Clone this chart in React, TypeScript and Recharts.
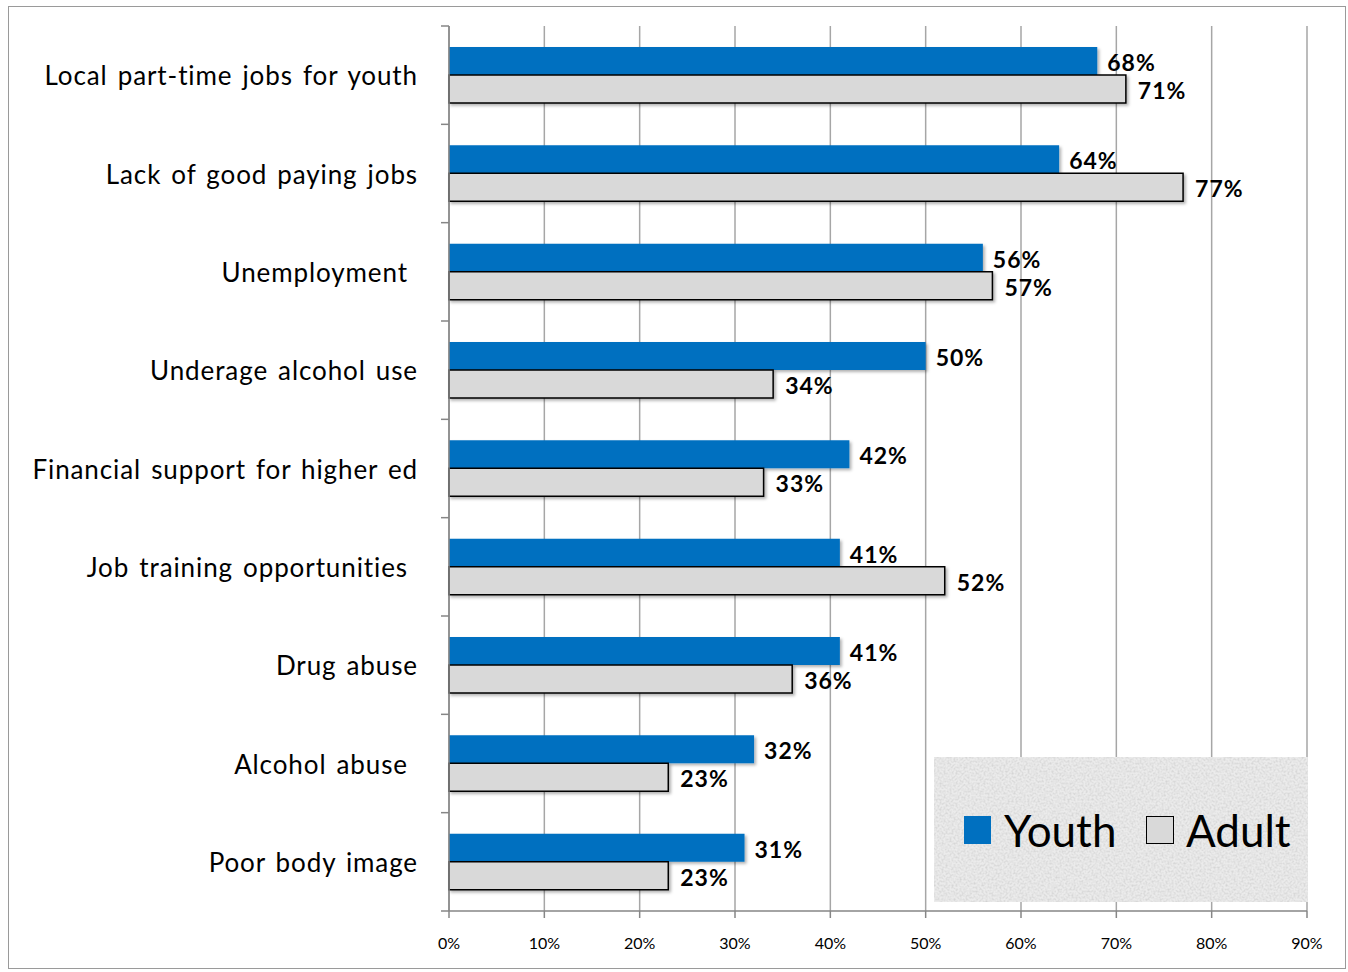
import { BarChart, Bar, XAxis, YAxis, CartesianGrid, LabelList, Legend } from 'recharts'

const categories = [
  'Local part-time jobs for youth',
  'Lack of good paying jobs',
  'Unemployment\u00a0',
  'Underage alcohol use',
  'Financial support for higher ed',
  'Job training opportunities\u00a0',
  'Drug abuse',
  'Alcohol abuse\u00a0',
  'Poor body image',
]
const youth = [68, 64, 56, 50, 42, 41, 41, 32, 31]
const adult = [71, 77, 57, 34, 33, 52, 36, 23, 23]
const xTicks = [0, 10, 20, 30, 40, 50, 60, 70, 80, 90]

const data = categories.map((name, i) => ({ name, youth: youth[i], adult: adult[i] }))

const W = 1348
const H = 972
const M = { top: 26, right: 41, bottom: 21, left: 0 }
const Y_W = 449
const X_H = 40
const BAND = (H - M.top - M.bottom - X_H) / categories.length
const FONT = 'Lato, "Open Sans", sans-serif'

function CatTick(props: any) {
  const { x, y, payload, index } = props
  const half = BAND / 2
  return (
    <g>
      <text
        x={x}
        y={y}
        textAnchor="end"
        dominantBaseline="central"
        fontSize={26}
        letterSpacing={0.9}
        wordSpacing={2.5}
        fill="#000"
        fontFamily={FONT}
      >
        {payload.value}
      </text>
      <line x1={Y_W - 8} x2={Y_W} y1={y - half} y2={y - half} stroke="#868686" strokeWidth={1.5} />
      {index === categories.length - 1 && (
        <line x1={Y_W - 8} x2={Y_W} y1={y + half} y2={y + half} stroke="#868686" strokeWidth={1.5} />
      )}
    </g>
  )
}

function LegendBox() {
  return (
    <div style={{ position: 'relative', width: 374, height: 145, background: '#ebebeb', fontFamily: FONT }}>
      <svg width={374} height={145} style={{ position: 'absolute', left: 0, top: 0 }}>
        <defs>
          <filter id="noise" x="0" y="0" width="100%" height="100%">
            <feTurbulence type="fractalNoise" baseFrequency="0.5" numOctaves="3" seed="7" />
            <feColorMatrix type="matrix" values="0 0 0 0 0.55  0 0 0 0 0.55  0 0 0 0 0.55  1.8 0 0 0 -0.7" />
          </filter>
        </defs>
        <rect width={374} height={145} filter="url(#noise)" opacity={0.7} />
      </svg>
      <div style={{ position: 'absolute', left: 30, top: 59, width: 27, height: 28, background: '#0070C0' }} />
      <div style={{ position: 'absolute', left: 70, top: 46, fontSize: 44, lineHeight: '54px', color: '#000' }}>Youth</div>
      <div
        style={{
          position: 'absolute',
          left: 212,
          top: 59,
          width: 26,
          height: 26,
          background: '#D9D9D9',
          border: '1px solid #000',
        }}
      />
      <div style={{ position: 'absolute', left: 252, top: 46, fontSize: 44, lineHeight: '54px', color: '#000' }}>Adult</div>
    </div>
  )
}

const labelStyle = { fontSize: 23, fontWeight: 700, fill: '#000', fontFamily: FONT, letterSpacing: 1 }

export default function App() {
  return (
    <div style={{ position: 'absolute', left: 0, top: 0, width: W, height: H, background: '#fff' }}>
      <div
        style={{
          position: 'absolute',
          left: 8,
          top: 6,
          width: 1338,
          height: 963,
          border: '1px solid #9a9a9a',
          boxSizing: 'border-box',
        }}
      />
      <svg width={0} height={0} style={{ position: 'absolute' }}>
        <defs>
          <filter id="barShadow" x="-5%" y="-20%" width="110%" height="160%">
            <feDropShadow dx={2} dy={2} stdDeviation={1.5} floodColor="#000" floodOpacity={0.3} />
          </filter>
        </defs>
      </svg>
      <div style={{ position: 'absolute', left: 0, top: 0 }}>
        <BarChart width={W} height={H} data={data} layout="vertical" margin={M} barGap={0} barSize={28}>
          <CartesianGrid horizontal={false} vertical stroke="#a6a6a6" strokeWidth={1.5} />
          <XAxis
            type="number"
            domain={[0, 90]}
            ticks={xTicks}
            tickFormatter={(v) => `${v}%`}
            height={X_H}
            tickSize={7}
            tickMargin={20}
            axisLine={{ stroke: '#868686', strokeWidth: 1.5 }}
            tickLine={{ stroke: '#868686', strokeWidth: 1.5 }}
            tick={{ fontSize: 16, fill: '#000', fontFamily: FONT }}
            interval={0}
          />
          <YAxis
            type="category"
            dataKey="name"
            width={Y_W}
            tickSize={0}
            tickMargin={31}
            tickLine={false}
            axisLine={{ stroke: '#868686', strokeWidth: 1.5 }}
            tick={<CatTick />}
            interval={0}
          />
          <Bar dataKey="youth" fill="#0070C0" isAnimationActive={false} style={{ filter: 'url(#barShadow)' }}>
            <LabelList
              dataKey="youth"
              position="right"
              offset={10}
              dy={2}
              formatter={(v: any) => `${v}%`}
              style={labelStyle}
            />
          </Bar>
          <Bar
            dataKey="adult"
            fill="#D9D9D9"
            stroke="#000"
            strokeWidth={1.5}
            isAnimationActive={false}
            style={{ filter: 'url(#barShadow)' }}
          >
            <LabelList
              dataKey="adult"
              position="right"
              offset={12}
              dy={2}
              formatter={(v: any) => `${v}%`}
              style={labelStyle}
            />
          </Bar>
          <Legend
            layout="horizontal"
            verticalAlign="middle"
            content={<LegendBox />}
            wrapperStyle={{ position: 'absolute', left: 934, top: 757, width: 374, height: 145 }}
          />
        </BarChart>
      </div>
    </div>
  )
}
